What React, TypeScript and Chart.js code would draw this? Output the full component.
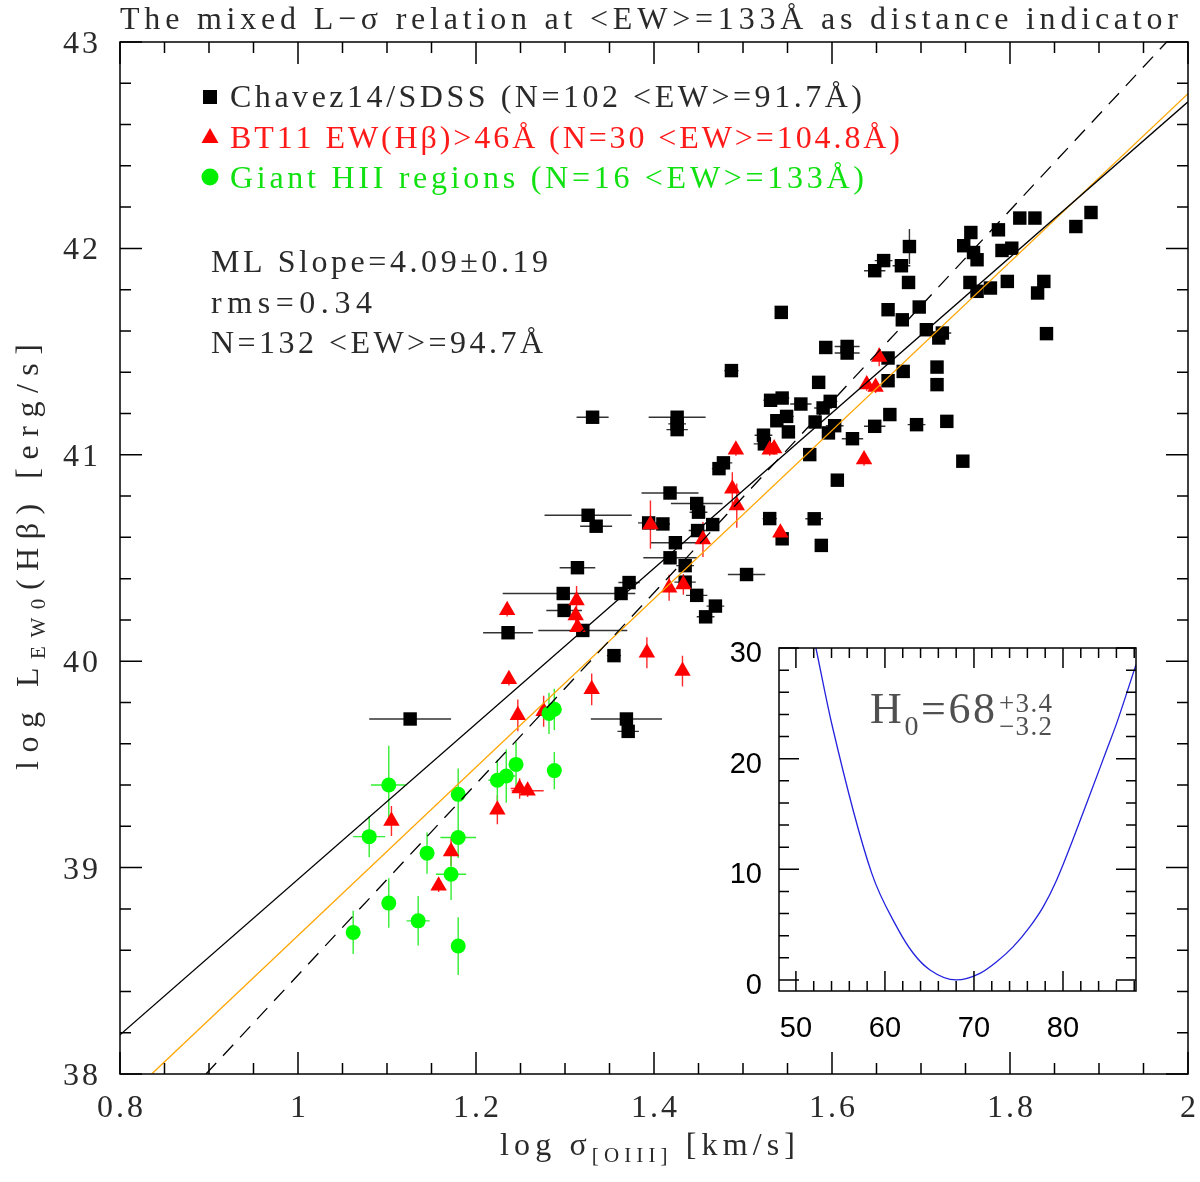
import { useEffect, useRef } from 'react';
import { Chart, registerables } from 'chart.js';

Chart.register(...registerables);

// Chavez14/SDSS sample (log sigma, log L, errors)
const chavezX = [
  1.126, 1.355, 1.369, 1.371, 1.331, 1.426, 1.426, 1.426, 1.523, 1.524,
  1.478, 1.473, 1.418, 1.448, 1.450, 1.326, 1.335, 1.394, 1.410, 1.466,
  1.449, 1.424, 1.418, 1.435, 1.435, 1.448, 1.469, 1.458, 1.314, 1.372,
  1.363, 1.298, 1.299, 1.320, 1.236, 1.504, 1.530, 1.487, 1.543, 1.663,
  1.679, 1.698, 1.706, 1.720, 1.724, 1.593, 1.617, 1.617, 1.663, 1.585,
  1.680, 1.663, 1.718, 1.718, 1.531, 1.544, 1.565, 1.598, 1.590, 1.538,
  1.549, 1.581, 1.603, 1.596, 1.551, 1.623, 1.648, 1.665, 1.695, 1.729,
  1.575, 1.606, 1.747, 1.580, 1.544, 1.588, 1.687, 1.658, 1.648, 1.678,
  1.686, 1.756, 1.748, 1.759, 1.763, 1.787, 1.811, 1.828, 1.791, 1.802,
  1.755, 1.763, 1.778, 1.797, 1.838, 1.831, 1.874, 1.891, 1.841,
];
const chavezY = [
  39.72, 40.027, 39.72, 39.66, 41.182, 41.182, 41.122, 41.15, 41.095, 41.053,
  40.961, 40.933, 40.815, 40.764, 40.722, 40.707, 40.654, 40.67, 40.665, 40.662,
  40.633, 40.574, 40.501, 40.463, 40.383, 40.319, 40.267, 40.215, 40.453, 40.381,
  40.328, 40.328, 40.246, 40.149, 40.138, 40.42, 40.691, 41.408, 41.69, 41.703,
  41.654, 41.716, 41.606, 41.566, 41.59, 41.52, 41.525, 41.493, 41.469, 41.351,
  41.404, 41.359, 41.425, 41.34, 41.264, 41.275, 41.246, 41.259, 41.227, 41.165,
  41.186, 41.159, 41.141, 41.106, 41.111, 41.078, 41.138, 41.195, 41.146, 41.162,
  41.001, 40.877, 40.969, 40.69, 40.593, 40.561, 42.009, 41.941, 41.892, 41.916,
  41.835, 42.077, 42.013, 41.98, 41.945, 42.09, 42.147, 42.147, 41.99, 42.001,
  41.835, 41.792, 41.808, 41.84, 41.84, 41.784, 42.106, 42.174, 41.587,
];
const chavezXErr = [
  0.046, 0.008, 0.04, 0.012, 0.018, 0.032, 0.012, 0.01, 0.01, 0.012,
  0.01, 0.008, 0.032, 0.029, 0.01, 0.049, 0.018, 0.012, 0.008, 0.006,
  0.01, 0.028, 0.03, 0.01, 0.012, 0.012, 0.01, 0.01, 0.02, 0.012,
  0.016, 0.068, 0.02, 0.05, 0.028, 0.021, 0.008, 0.008, 0.005, 0.005,
  0.005, 0.005, 0.005, 0.005, 0.01, 0.005, 0.014, 0.014, 0.005, 0.005,
  0.005, 0.005, 0.005, 0.005, 0.008, 0.008, 0.012, 0.008, 0.01, 0.005,
  0.008, 0.005, 0.01, 0.005, 0.005, 0.012, 0.012, 0.005, 0.01, 0.005,
  0.005, 0.005, 0.005, 0.01, 0.005, 0.005, 0.005, 0.01, 0.012, 0.01,
  0.005, 0.005, 0.005, 0.005, 0.005, 0.005, 0.005, 0.005, 0.005, 0.005,
  0.005, 0.005, 0.005, 0.005, 0.005, 0.005, 0.005, 0.005, 0.005,
];
const chavezYErr = chavezX.map((_, i) => (i === 76 ? 0.085 : 0.02));

// BT11 EW(Hb)>46A sample
const bt11X = [
  1.237, 1.247, 1.33, 1.276, 1.105, 1.172, 1.158, 1.224, 1.249, 1.258,
  1.492, 1.488, 1.493, 1.396, 1.455, 1.417, 1.433, 1.313, 1.312, 1.314,
  1.235, 1.392, 1.432, 1.653, 1.639, 1.649, 1.53, 1.535, 1.636, 1.542,
];
const bt11Y = [
  39.912, 39.738, 39.864, 39.758, 39.226, 39.078, 38.912, 39.28, 39.383, 39.372,
  41.025, 40.835, 40.754, 40.662, 40.59, 40.356, 40.372, 40.294, 40.222, 40.165,
  40.247, 40.041, 39.952, 41.474, 41.34, 41.329, 41.025, 41.03, 40.977, 40.622,
];
const bt11XErr = [
  0.005, 0.005, 0.005, 0.005, 0.005, 0.005, 0.005, 0.005, 0.01, 0.018,
  0.005, 0.005, 0.005, 0.005, 0.005, 0.005, 0.005, 0.005, 0.005, 0.005,
  0.005, 0.005, 0.005, 0.005, 0.005, 0.005, 0.005, 0.005, 0.005, 0.005,
];
const bt11YErr = [
  0.03, 0.077, 0.077, 0.075, 0.073, 0.07, 0.03, 0.07, 0.05, 0.03,
  0.03, 0.08, 0.107, 0.117, 0.085, 0.063, 0.05, 0.07, 0.04, 0.03,
  0.03, 0.075, 0.075, 0.045, 0.03, 0.03, 0.03, 0.03, 0.03, 0.03,
];

// Giant HII regions
const ghrX = [1.062, 1.102, 1.08, 1.102, 1.135, 1.145, 1.18, 1.18, 1.172, 1.18, 1.224, 1.234, 1.245, 1.282, 1.288, 1.288];
const ghrY = [38.686, 39.4, 39.15, 38.828, 38.742, 39.07, 39.355, 39.146, 38.968, 38.62, 39.423, 39.444, 39.5, 39.747, 39.767, 39.47];
const ghrXErr = [0.005, 0.02, 0.018, 0.004, 0.013, 0.004, 0.004, 0.02, 0.017, 0.004, 0.01, 0.01, 0.008, 0.004, 0.004, 0.004];
const ghrYErr = [0.105, 0.19, 0.1, 0.12, 0.12, 0.1, 0.125, 0.1, 0.125, 0.14, 0.1, 0.13, 0.11, 0.1, 0.1, 0.09];

// fitted relations (end points)
const solidFitX = [0.8, 2.0];
const solidFitY = [38.19, 42.71];
const dashedFitX = [0.8966, 1.976];
const dashedFitY = [38.0, 43.0];
const orangeFitX = [0.8356, 2.0];
const orangeFitY = [38.0, 42.75];

// inset: chi2 vs H0
const h0Grid = [
  52.25, 54.01, 58.51, 61.31, 63.18, 65.06, 68.0, 70.67,
  72.55, 74.42, 76.29, 77.79, 79.29, 82.66, 84.91, 86.03, 88.2,
];
const chi2Values = [
  30, 23.2, 9.65, 4.82, 2.41, 0.9, 0, 0.6,
  1.65, 3.01, 4.82, 6.63, 9.04, 15.97, 20.8, 23.21, 28.5,
];

// ticks
const xMajorTicks = [0.8, 1, 1.2, 1.4, 1.6, 1.8, 2];
const xTickLabels = ['0.8', '1', '1.2', '1.4', '1.6', '1.8', '2'];
const xMinorStep = 0.05;
const yMajorTicks = [38, 39, 40, 41, 42, 43];
const yTickLabels = ['38', '39', '40', '41', '42', '43'];
const yMinorStep = 0.2;
const insetXMajor = [50, 60, 70, 80];
const insetXLabels = ['50', '60', '70', '80'];
const insetYMajor = [0, 10, 20, 30];
const insetYLabels = ['0', '10', '20', '30'];
const insetMinorStep = 2;

const SERIF = '"Liberation Serif", "DejaVu Serif", serif';
const SANS = '"Liberation Sans", Arial, sans-serif';
const INK = '#2a2a2a';

type Run = { t: string; size: number; dy?: number };

function measureRuns(ctx: CanvasRenderingContext2D, runs: Run[], family: string) {
  let total = 0;
  let n = 0;
  for (const r of runs) {
    ctx.font = `${r.size}px ${family}`;
    for (const ch of Array.from(r.t)) {
      total += ctx.measureText(ch).width;
      n++;
    }
  }
  return { total, n };
}

function drawRuns(
  ctx: CanvasRenderingContext2D,
  runs: Run[],
  x: number,
  y: number,
  opts: { family: string; color: string; width?: number; spacing?: number; align?: 'left' | 'center' | 'right' }
) {
  const { total, n } = measureRuns(ctx, runs, opts.family);
  let spacing = opts.spacing ?? 0;
  if (opts.width !== undefined && n > 1) spacing = (opts.width - total) / (n - 1);
  const full = total + spacing * (n - 1);
  let cx = x;
  if (opts.align === 'center') cx = x - full / 2;
  else if (opts.align === 'right') cx = x - full;
  ctx.save();
  ctx.fillStyle = opts.color;
  ctx.textAlign = 'left';
  ctx.textBaseline = 'alphabetic';
  for (const r of runs) {
    ctx.font = `${r.size}px ${opts.family}`;
    for (const ch of Array.from(r.t)) {
      ctx.fillText(ch, cx, y + (r.dy ?? 0));
      cx += ctx.measureText(ch).width + spacing;
    }
  }
  ctx.restore();
  return cx - spacing;
}

function minorValues(min: number, max: number, step: number) {
  const out: number[] = [];
  for (let k = Math.ceil(min / step - 1e-6); k * step <= max + 1e-6; k++) out.push(k * step);
  return out;
}

function drawFrameTicks(
  chart: Chart,
  xMajor: number[],
  yMajor: number[],
  minorStepX: number,
  minorStepY: number,
  majorLen: number,
  minorLen: number
) {
  const { ctx, chartArea: a } = chart;
  const xs = chart.scales.x;
  const ys = chart.scales.y;
  ctx.save();
  ctx.strokeStyle = '#000';
  ctx.lineWidth = 1.5;
  ctx.strokeRect(a.left, a.top, a.right - a.left, a.bottom - a.top);
  ctx.beginPath();
  const xTick = (v: number, len: number) => {
    const px = xs.getPixelForValue(v);
    if (px < a.left - 0.5 || px > a.right + 0.5) return;
    ctx.moveTo(px, a.bottom);
    ctx.lineTo(px, a.bottom - len);
    ctx.moveTo(px, a.top);
    ctx.lineTo(px, a.top + len);
  };
  const yTick = (v: number, len: number) => {
    const py = ys.getPixelForValue(v);
    if (py < a.top - 0.5 || py > a.bottom + 0.5) return;
    ctx.moveTo(a.left, py);
    ctx.lineTo(a.left + len, py);
    ctx.moveTo(a.right, py);
    ctx.lineTo(a.right - len, py);
  };
  minorValues(xs.min, xs.max, minorStepX).forEach((v) => {
    if (!xMajor.some((m) => Math.abs(m - v) < 1e-6)) xTick(v, minorLen);
  });
  xMajor.forEach((v) => xTick(v, majorLen));
  minorValues(ys.min, ys.max, minorStepY).forEach((v) => {
    if (!yMajor.some((m) => Math.abs(m - v) < 1e-6)) yTick(v, minorLen);
  });
  yMajor.forEach((v) => yTick(v, majorLen));
  ctx.stroke();
  ctx.restore();
}

const errorBarPlugin = {
  id: 'errorBars',
  beforeDatasetsDraw(chart: Chart) {
    const { ctx, chartArea: a } = chart;
    const xs = chart.scales.x;
    const ys = chart.scales.y;
    const groups = [
      { x: chavezX, y: chavezY, ex: chavezXErr, ey: chavezYErr, color: '#333' },
      { x: bt11X, y: bt11Y, ex: bt11XErr, ey: bt11YErr, color: '#ff2a2a' },
      { x: ghrX, y: ghrY, ex: ghrXErr, ey: ghrYErr, color: '#33ee33' },
    ];
    ctx.save();
    ctx.beginPath();
    ctx.rect(a.left, a.top, a.right - a.left, a.bottom - a.top);
    ctx.clip();
    ctx.lineWidth = 1.4;
    for (const g of groups) {
      ctx.strokeStyle = g.color;
      ctx.beginPath();
      g.x.forEach((xv, i) => {
        const px = xs.getPixelForValue(xv);
        const py = ys.getPixelForValue(g.y[i]);
        ctx.moveTo(xs.getPixelForValue(xv - g.ex[i]), py);
        ctx.lineTo(xs.getPixelForValue(xv + g.ex[i]), py);
        ctx.moveTo(px, ys.getPixelForValue(g.y[i] - g.ey[i]));
        ctx.lineTo(px, ys.getPixelForValue(g.y[i] + g.ey[i]));
      });
      ctx.stroke();
    }
    ctx.restore();
  },
};

const mainDecorPlugin = {
  id: 'mainDecor',
  afterDraw(chart: Chart) {
    const { ctx, chartArea: a } = chart;
    const xs = chart.scales.x;
    const ys = chart.scales.y;
    drawFrameTicks(chart, xMajorTicks, yMajorTicks, xMinorStep, yMinorStep, 22, 11);

    xMajorTicks.forEach((v, i) => {
      drawRuns(ctx, [{ t: xTickLabels[i], size: 32 }], xs.getPixelForValue(v), a.bottom + 43, {
        family: SERIF, color: INK, spacing: 3, align: 'center',
      });
    });
    yMajorTicks.forEach((v, i) => {
      drawRuns(ctx, [{ t: yTickLabels[i], size: 32 }], a.left - 22, ys.getPixelForValue(v) + 11, {
        family: SERIF, color: INK, spacing: 3, align: 'right',
      });
    });

    // title
    drawRuns(ctx, [{ t: 'The mixed L\u2212\u03c3 relation at <EW>=133\u00c5 as distance indicator', size: 32 }], 120, 29, {
      family: SERIF, color: INK, width: 1058,
    });

    // axis titles
    drawRuns(ctx, [{ t: 'log \u03c3', size: 32 }, { t: '[OIII]', size: 21, dy: 7 }, { t: ' [km/s]', size: 32 }], 500, 1155, {
      family: SERIF, color: INK, width: 295,
    });
    ctx.save();
    ctx.translate(38, 557);
    ctx.rotate(-Math.PI / 2);
    drawRuns(ctx, [{ t: 'log L', size: 32 }, { t: 'EW0', size: 21, dy: 7 }, { t: '(H\u03b2) [erg/s]', size: 32 }], -213, 0, {
      family: SERIF, color: INK, width: 426,
    });
    ctx.restore();

    // legend markers
    ctx.save();
    ctx.fillStyle = '#000';
    ctx.fillRect(203, 90, 14, 14);
    ctx.fillStyle = '#ff0000';
    ctx.beginPath();
    ctx.moveTo(210, 128);
    ctx.lineTo(218.5, 143);
    ctx.lineTo(201.5, 143);
    ctx.closePath();
    ctx.fill();
    ctx.fillStyle = '#00ee00';
    ctx.beginPath();
    ctx.arc(210, 177, 8.5, 0, Math.PI * 2);
    ctx.fill();
    ctx.restore();

    drawRuns(ctx, [{ t: 'Chavez14/SDSS (N=102 <EW>=91.7\u00c5)', size: 32 }], 230, 107, {
      family: SERIF, color: INK, width: 632,
    });
    drawRuns(ctx, [{ t: 'BT11 EW(H\u03b2)>46\u00c5 (N=30 <EW>=104.8\u00c5)', size: 32 }], 230, 148, {
      family: SERIF, color: '#ff1a1a', width: 670,
    });
    drawRuns(ctx, [{ t: 'Giant HII regions (N=16 <EW>=133\u00c5)', size: 32 }], 230, 188, {
      family: SERIF, color: '#11e011', width: 634,
    });

    // fit annotation
    drawRuns(ctx, [{ t: 'ML Slope=4.09\u00b10.19', size: 32 }], 211, 272, { family: SERIF, color: INK, width: 337 });
    drawRuns(ctx, [{ t: 'rms=0.34', size: 32 }], 211, 313, { family: SERIF, color: INK, width: 161 });
    drawRuns(ctx, [{ t: 'N=132 <EW>=94.7\u00c5', size: 32 }], 211, 353, { family: SERIF, color: INK, width: 332 });
  },
};

const insetDecorPlugin = {
  id: 'insetDecor',
  afterDraw(chart: Chart) {
    const { ctx, chartArea: a } = chart;
    const xs = chart.scales.x;
    const ys = chart.scales.y;
    drawFrameTicks(chart, insetXMajor, insetYMajor, insetMinorStep, insetMinorStep, 20, 10);
    insetXMajor.forEach((v, i) => {
      drawRuns(ctx, [{ t: insetXLabels[i], size: 29 }], xs.getPixelForValue(v), a.bottom + 46, {
        family: SANS, color: '#000', align: 'center',
      });
    });
    insetYMajor.forEach((v, i) => {
      drawRuns(ctx, [{ t: insetYLabels[i], size: 29 }], a.left - 17, ys.getPixelForValue(v) + 14, {
        family: SANS, color: '#000', align: 'right',
      });
    });
    const end = drawRuns(ctx, [{ t: 'H', size: 44 }, { t: '0', size: 28, dy: 12 }, { t: '=68', size: 44 }], 870, 723, {
      family: SERIF, color: '#505050', width: 125,
    });
    drawRuns(ctx, [{ t: '+3.4', size: 27 }], end + 4, 712, { family: SERIF, color: '#505050', width: 53 });
    drawRuns(ctx, [{ t: '\u22123.2', size: 27 }], end + 4, 735, { family: SERIF, color: '#505050', width: 53 });
  },
};

const toPoints = (xs: number[], ys: number[]) => xs.map((x, i) => ({ x, y: ys[i] }));

export default function App() {
  const mainRef = useRef<HTMLCanvasElement>(null);
  const insetRef = useRef<HTMLCanvasElement>(null);

  useEffect(() => {
    const charts: Chart[] = [];
    if (mainRef.current) {
      charts.push(
        new Chart(mainRef.current, {
          type: 'scatter',
          data: {
            datasets: [
              { data: toPoints(solidFitX, solidFitY), showLine: true, borderColor: '#000', borderWidth: 1.3, pointRadius: 0 },
              { data: toPoints(dashedFitX, dashedFitY), showLine: true, borderColor: '#000', borderWidth: 1.3, borderDash: [15, 10], pointRadius: 0 },
              { data: toPoints(orangeFitX, orangeFitY), showLine: true, borderColor: '#ffa500', borderWidth: 1.3, pointRadius: 0 },
              { data: toPoints(ghrX, ghrY), pointStyle: 'circle', pointRadius: 7.5, backgroundColor: '#00ff00', borderColor: '#00ff00', borderWidth: 0 },
              { data: toPoints(bt11X, bt11Y), pointStyle: 'triangle', pointRadius: 9.5, backgroundColor: '#ff0000', borderColor: '#ff0000', borderWidth: 0 },
              { data: toPoints(chavezX, chavezY), pointStyle: 'rect', pointRadius: 9.5, backgroundColor: '#000', borderColor: '#000', borderWidth: 0 },
            ],
          },
          options: {
            animation: false,
            responsive: false,
            devicePixelRatio: 1,
            events: [],
            layout: { padding: { left: 120, right: 12, top: 42, bottom: 108 } },
            scales: {
              x: { type: 'linear', min: 0.8, max: 2, display: false },
              y: { type: 'linear', min: 38, max: 43, display: false },
            },
            plugins: { legend: { display: false }, tooltip: { enabled: false } },
          },
          plugins: [errorBarPlugin, mainDecorPlugin],
        })
      );
    }
    if (insetRef.current) {
      charts.push(
        new Chart(insetRef.current, {
          type: 'scatter',
          data: {
            datasets: [
              {
                data: toPoints(h0Grid, chi2Values),
                showLine: true,
                cubicInterpolationMode: 'monotone',
                borderColor: '#2222dd',
                borderWidth: 1.3,
                pointRadius: 0,
              },
            ],
          },
          options: {
            animation: false,
            responsive: false,
            devicePixelRatio: 1,
            events: [],
            layout: { padding: { left: 779, right: 64, top: 648, bottom: 191 } },
            scales: {
              x: { type: 'linear', min: 48.1, max: 88.2, display: false },
              y: { type: 'linear', min: -1, max: 30, display: false },
            },
            plugins: { legend: { display: false }, tooltip: { enabled: false } },
          },
          plugins: [insetDecorPlugin],
        })
      );
    }
    return () => charts.forEach((c) => c.destroy());
  }, []);

  return (
    <div style={{ position: 'absolute', left: 0, top: 0, width: 1200, height: 1182, background: '#fff' }}>
      <canvas ref={mainRef} width={1200} height={1182} style={{ position: 'absolute', left: 0, top: 0 }} />
      <canvas ref={insetRef} width={1200} height={1182} style={{ position: 'absolute', left: 0, top: 0 }} />
    </div>
  );
}
